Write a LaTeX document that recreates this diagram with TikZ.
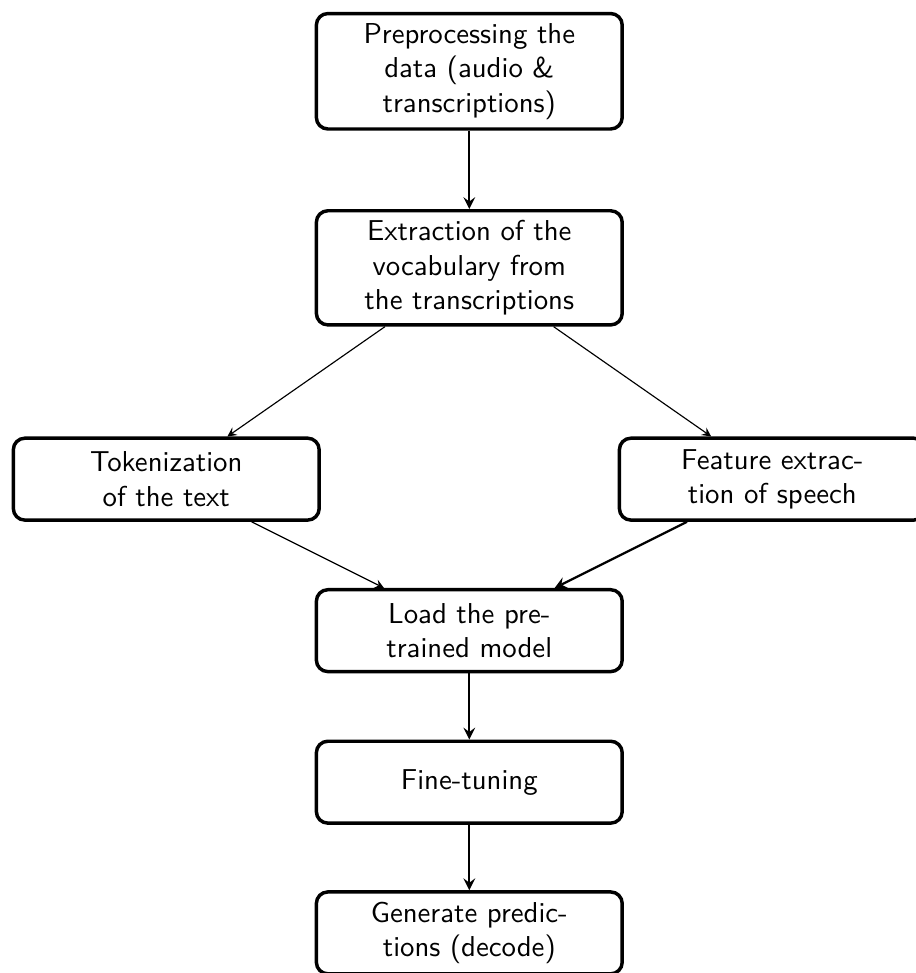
\documentclass[tikz,border=0pt]{standalone}
\begin{document}
\begin{tikzpicture}
    [thick, >=stealth,
    stage/.style = {rectangle,
                    rounded corners,
                    draw = black,
                    very thick,
                    text width = 3.5cm,
                    minimum height = 1cm,
                    align = center,
                    font = \sffamily}]
    \useasboundingbox (-5.73,-11.01) rectangle (5.45,0.87);
    % Preprocesado
    \node[stage] (prep) at (0,0) {Preprocessing the data (audio \& transcriptions)};
    % Vocabulario
    \node[stage] (vocab) at (0,-2.40) {Extraction of the vocabulary from the transcriptions};
    % Ramas
    \node[stage] (token) at (-3.7,-4.98) {Tokenization of the text};
    \node[stage] (feat) at (3.7,-4.98) {Feature extraction of speech};
    % Modelo
    \node[stage] (load) at (0,-6.83) {Load the pretrained model};
    \node[stage] (tune) at (0,-8.68) {Fine-tuning};
    \node[stage] (pred) at (0,-10.52) {Generate predictions (decode)};
    % Flechas
    \draw[->] (prep) -- (vocab);
    \draw[->,thin] (vocab) -- (token);
    \draw[->,thin] (vocab) -- (feat);
    \draw[->,thin] (token) -- (load);
    \draw[->] (feat) -- (load);
    \draw[->] (load) -- (tune);
    \draw[->] (tune) -- (pred);
\end{tikzpicture}
\end{document}
